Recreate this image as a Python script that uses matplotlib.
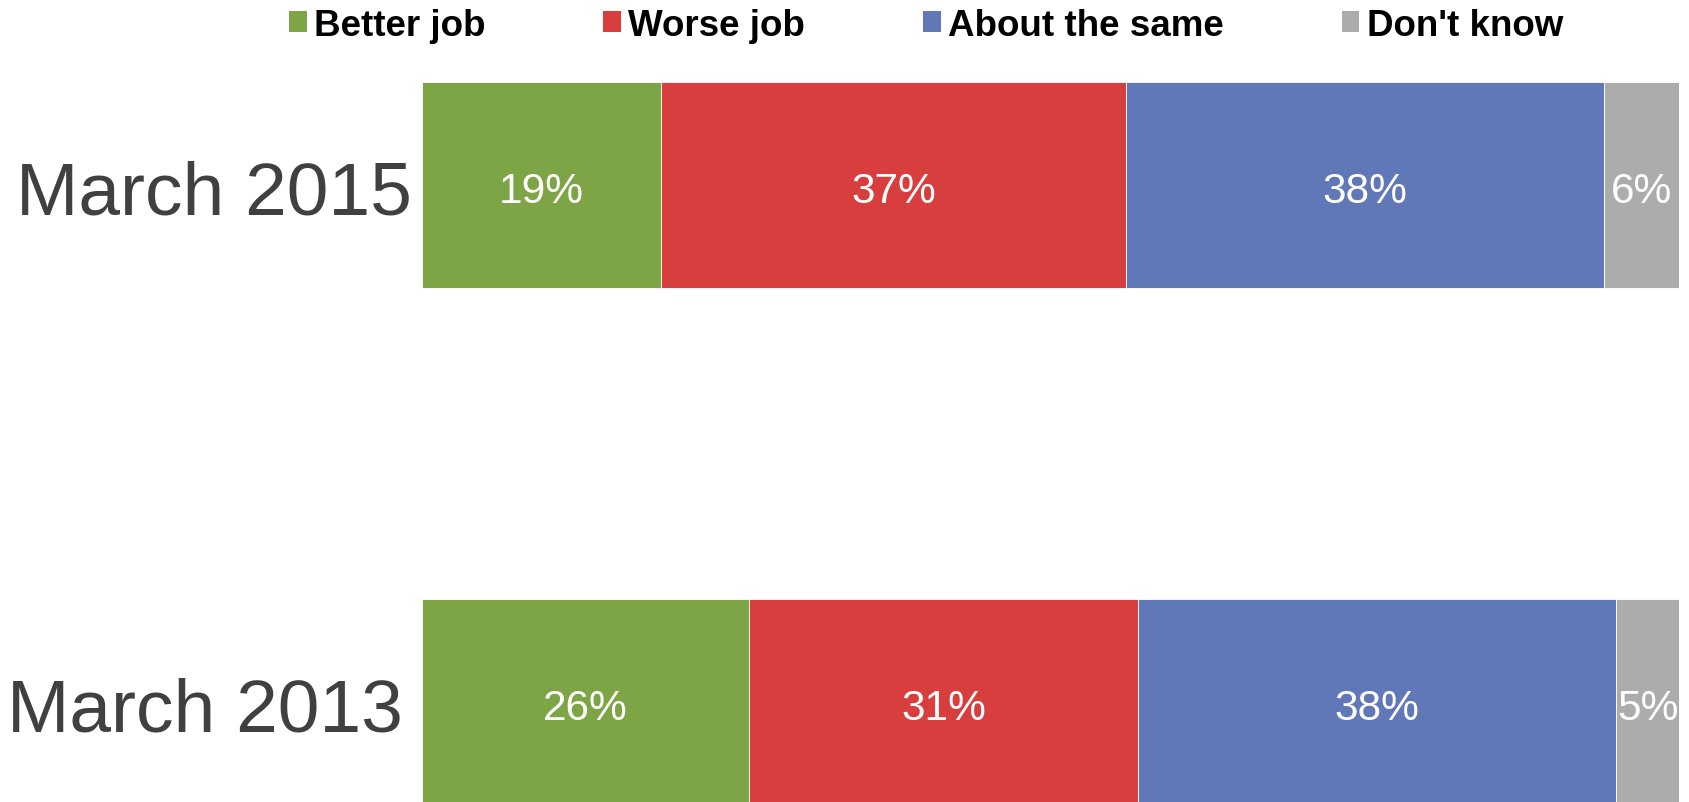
import matplotlib
matplotlib.use("Agg")
import matplotlib.pyplot as plt
from matplotlib.patches import Patch

plt.rcParams['font.family'] = ['Liberation Sans', 'DejaVu Sans']

# survey data (percent)
periods = ["March 2013", "March 2015"]
series = ["Better job", "Worse job", "About the same", "Don't know"]
better = [26, 19]
worse = [31, 37]
same = [38, 38]
dont_know = [5, 6]
colors = ["#7EA545", "#D83E3D", "#6077B8", "#ACADAB"]

values = [better, worse, same, dont_know]

fig = plt.figure(figsize=(16.9, 8.03), dpi=100)
ax = fig.add_axes([0.2497, 0.0, 0.7438, 1.0])

ypos = list(range(len(periods)))
left = [0] * len(periods)
for name, vals, col in zip(series, values, colors):
    bars = ax.barh(ypos, vals, left=left, height=0.4, color=col,
                   edgecolor="white", linewidth=0.6, label=name)
    for b, v in zip(bars, vals):
        ax.annotate(f"{v}%", xy=(b.get_x() + b.get_width() / 2,
                                 b.get_y() + b.get_height() / 2),
                    xytext=(0, -4.5), textcoords="offset points",
                    ha="center", va="center", color="white", fontsize=30.5)
    left = [l + v for l, v in zip(left, vals)]

ax.set_xlim(0, 100)
ax.set_ylim(-0.1934, 1.3598)
ax.axis("off")

# category labels on the left
offsets = [-13.5, -7.5]
for y, lab, off in zip(ypos, periods, offsets):
    ax.annotate(lab, xy=(0, y), xytext=(off, -6.5), textcoords="offset points",
                ha="right", va="center", fontsize=54, color="#404040")

handles = [Patch(facecolor=c, edgecolor="none") for c in colors]
fig.legend(handles, series, loc="center left",
           bbox_to_anchor=(289 / 1690, 1 - 26 / 803), ncol=4, frameon=False,
           prop={"weight": "bold", "size": 26.5}, handlelength=0.48,
           handleheight=0.48, handletextpad=0.2, columnspacing=3.2,
           borderpad=0, borderaxespad=0)

fig.savefig("out.png", dpi=100)
